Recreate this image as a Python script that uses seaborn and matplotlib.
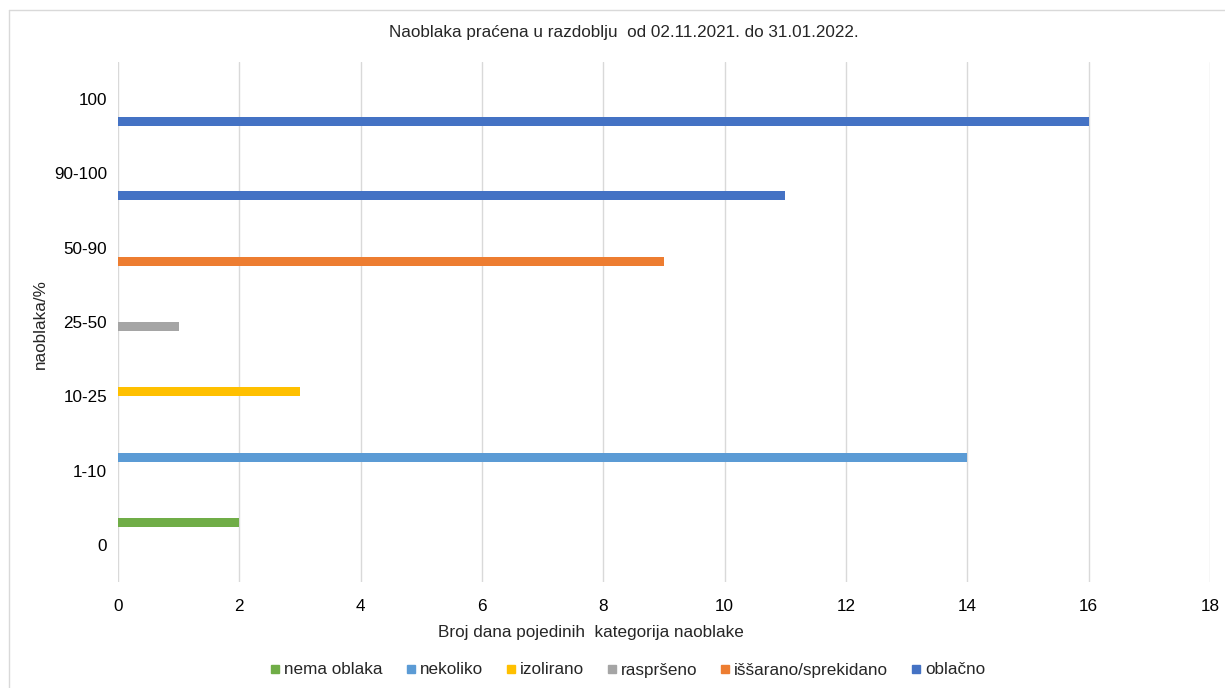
import matplotlib
matplotlib.use("Agg")
import matplotlib.pyplot as plt
import seaborn as sns
import pandas as pd
from matplotlib.lines import Line2D

categories = ["0", "1-10", "10-25", "25-50", "50-90", "90-100", "100"]
series = ["nema oblaka", "nekoliko", "izolirano", "raspršeno", "iššarano/sprekidano", "oblačno"]
nema_oblaka = [2, 0, 0, 0, 0, 0, 0]
nekoliko = [0, 14, 0, 0, 0, 0, 0]
izolirano = [0, 0, 3, 0, 0, 0, 0]
rasprseno = [0, 0, 0, 1, 0, 0, 0]
issarano = [0, 0, 0, 0, 9, 0, 0]
oblacno = [0, 0, 0, 0, 0, 11, 16]
colors = ["#70AD47", "#5B9BD5", "#FFC000", "#A5A5A5", "#ED7D31", "#4472C4"]

values = [nema_oblaka, nekoliko, izolirano, rasprseno, issarano, oblacno]
rows = []
for s, vals in zip(series, values):
    for c, v in zip(categories, vals):
        rows.append({"kat": c, "serija": s, "dani": v})
df = pd.DataFrame(rows)

sns.set_theme(style="white")
plt.rcParams["font.family"] = ["Liberation Sans", "DejaVu Sans"]

fig = plt.figure(figsize=(12.25, 6.88), dpi=100)
ax = fig.add_axes([118/1225, 1-582/688, (1210-118)/1225, (582-62)/688])

# top category first (seaborn draws the first category at the top)
sns.barplot(data=df, x="dani", y="kat", hue="serija", order=categories[::-1],
            hue_order=series, palette=colors, orient="h", width=0.727,
            errorbar=None, saturation=1, legend=False, ax=ax, linewidth=0)

ax.set_ylim(len(categories) - 0.5, -0.5)
ax.set_xlim(0, 18)
ax.set_xticks(range(0, 19, 2))
ax.grid(axis="x", color="#D9D9D9", linewidth=1)
ax.set_axisbelow(True)
for sp in ax.spines.values():
    sp.set_visible(False)
ax.tick_params(axis="both", length=0, labelsize=12.3, colors="#000000", pad=8)
ax.tick_params(axis="x", pad=12)
ax.set_xlabel("")
ax.set_ylabel("")

fig.text(40/1225, 1-324/688, "naoblaka/%", rotation=90, ha="center", va="center",
         fontsize=12.3)
fig.text(624/1225, 1-33/688, "Naoblaka praćena u razdoblju  od 02.11.2021. do 31.01.2022.",
         ha="center", va="center", fontsize=12.3)
fig.text(591/1225, 1-632/688, "Broj dana pojedinih  kategorija naoblake",
         ha="center", va="center", fontsize=12.3)

handles = [Line2D([0], [0], marker="s", linestyle="none", markersize=5.5,
                  markerfacecolor=c, markeredgecolor=c) for c in colors]
fig.legend(handles, series, loc="center", bbox_to_anchor=(628/1225, 1-670/688),
           ncol=6, frameon=False, fontsize=12.3, handletextpad=0.26,
           columnspacing=1.4, handlelength=0.5)

fig.add_artist(Line2D([9/1225, 9/1225], [0, 1-10/688], transform=fig.transFigure,
                      color="#D9D9D9", linewidth=1))
fig.add_artist(Line2D([9/1225, 1], [1-10/688, 1-10/688], transform=fig.transFigure,
                      color="#D9D9D9", linewidth=1))

fig.savefig("out.png", dpi=100, facecolor="white")
